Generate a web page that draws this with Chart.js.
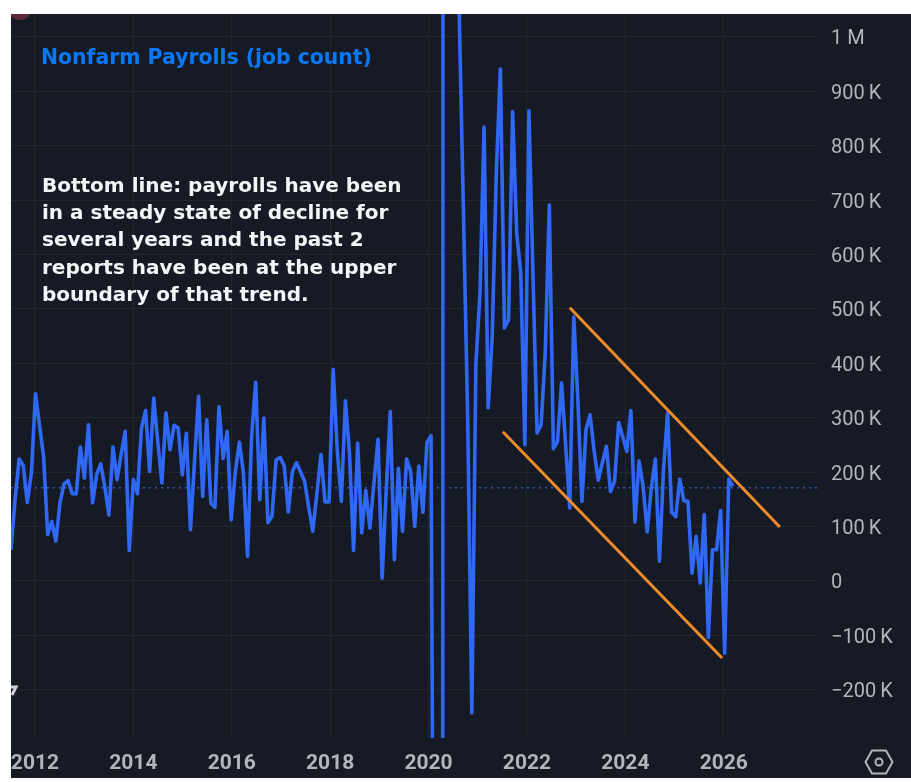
<!DOCTYPE html>
<html>
<head>
<meta charset="utf-8">
<title>Nonfarm Payrolls</title>
<script src="https://cdn.jsdelivr.net/npm/chart.js@4"></script>
<style>
	html, body { margin: 0; padding: 0; background: #fff; overflow: hidden; }
	#panel { position: absolute; left: 11px; top: 14px; width: 900px; height: 764px; background: #161a25; }
</style>
</head>
<body>
<div id="panel"><canvas id="myChart" width="900" height="764"></canvas></div>
<script>
'use strict';

// monthly job change in thousands, starting July 2011
const payrolls = [
	57, 150, 224, 212, 144, 198,
	344, 285, 228, 85, 109, 73, 143, 178, 184, 160, 160, 246,
	189, 287, 143, 195, 215, 173, 121, 246, 186, 232, 275, 56,
	186, 160, 281, 313, 201, 336, 255, 180, 309, 241, 286, 281,
	195, 271, 94, 220, 339, 155, 296, 143, 135, 320, 225, 275,
	112, 200, 255, 198, 45, 265, 365, 149, 299, 107, 119, 222,
	227, 211, 127, 201, 217, 200, 183, 135, 91, 160, 232, 145,
	145, 389, 240, 146, 331, 235, 56, 253, 88, 166, 97, 180,
	260, 5, 165, 311, 39, 207, 91, 224, 201, 100, 211, 126,
	254, 267, -1373, -20477, 2793, 4580, 1732, 1450, 1010, 658, 293, -243,
	399, 529, 834, 318, 449, 750, 941, 465, 480, 862, 639, 566,
	250, 864, 560, 272, 287, 419, 691, 243, 256, 364, 250, 134,
	485, 333, 146, 278, 305, 238, 185, 217, 247, 164, 183, 291,
	265, 238, 313, 108, 220, 174, 90, 170, 224, 36, 204, 308,
	126, 118, 187, 147, 146, 14, 82, -4, 122, -104, 57, 57,
	129, -133, 187, 174
];
const startYear = 2011.5;

const upperTrend = [[2022.92, 502], [2027.21, 99]];
const lowerTrend = [[2021.55, 274], [2026.03, -142]];
const lastValue = 171;

const yearTicks = [2012, 2014, 2016, 2018, 2020, 2022, 2024, 2026];
const yTicks = [1000, 900, 800, 700, 600, 500, 400, 300, 200, 100, 0, -100, -200];
const yTickLabels = ['1 M', '900\u2009K', '800\u2009K', '700\u2009K', '600\u2009K', '500\u2009K', '400\u2009K', '300\u2009K', '200\u2009K', '100\u2009K', '0', '\u2212100\u2009K', '\u2212200\u2009K'];

const titleText = 'Nonfarm Payrolls (job count)';
const noteLines = [
	'Bottom line: payrolls have been',
	'in a steady state of decline for',
	'several years and the past 2',
	'reports have been at the upper',
	'boundary of that trend.'
];

const gridColor = '#22262f';
const axisTextColor = '#b2b5be';

const toPoints = pairs => pairs.map(p => ({ x: p[0], y: p[1] }));

// annotations and the small corner bits of the screenshot
const overlay = {
	id: 'overlay',
	afterDraw(chart) {
		const c = chart.ctx;
		c.save();
		c.textBaseline = 'alphabetic';
		c.textAlign = 'left';

		c.font = 'bold 20.4px "DejaVu Sans"';
		c.fillStyle = '#0a78f5';
		c.fillText(titleText, 30, 50);

		c.font = 'bold 20px "DejaVu Sans"';
		c.fillStyle = '#f4f5f7';
		noteLines.forEach((line, i) => c.fillText(line, 31, 178 + i * 27.2));

		// settings hexagon
		c.strokeStyle = axisTextColor;
		c.lineWidth = 2;
		c.beginPath();
		c.moveTo(854.5, 748);
		c.lineTo(861, 736.5);
		c.lineTo(875, 736.5);
		c.lineTo(881.5, 748);
		c.lineTo(875, 759.5);
		c.lineTo(861, 759.5);
		c.closePath();
		c.stroke();
		c.beginPath();
		c.arc(868, 748, 3.5, 0, Math.PI * 2);
		c.stroke();

		// clipped marker at top left
		c.fillStyle = '#5c2a38';
		c.beginPath();
		c.arc(9, -6, 12, 0, Math.PI * 2);
		c.fill();

		// clipped logo at lower left
		c.strokeStyle = '#cfd0d4';
		c.lineWidth = 3;
		c.beginPath();
		c.moveTo(0, 673);
		c.lineTo(5, 673);
		c.lineTo(1, 681);
		c.stroke();
		c.restore();
	}
};

let ctx = document.getElementById('myChart');

let myChart = new Chart(ctx, {
	type: 'line',
	data: {
		datasets: [
			{
				data: toPoints(upperTrend),
				borderColor: '#ee8c2b',
				borderWidth: 3,
				order: 1
			},
			{
				data: toPoints(lowerTrend),
				borderColor: '#ee8c2b',
				borderWidth: 3,
				order: 1
			},
			{
				data: payrolls.map((v, i) => ({ x: startYear + i / 12, y: v })),
				borderColor: '#2f68f5',
				borderWidth: 3.6,
				borderJoinStyle: 'round',
				order: 2
			},
			{
				data: toPoints([[startYear, lastValue], [2027.97, lastValue]]),
				borderColor: 'rgba(63, 116, 255, 0.7)',
				borderWidth: 1.5,
				borderDash: [2, 4],
				order: 3
			}
		]
	},
	options: {
		responsive: false,
		animation: false,
		parsing: false,
		elements: {
			point: { radius: 0 },
			line: { tension: 0 }
		},
		layout: { padding: 0 },
		plugins: {
			legend: { display: false },
			tooltip: { enabled: false }
		},
		scales: {
			x: {
				type: 'linear',
				min: startYear,
				max: 2027.97,
				afterBuildTicks: axis => {
					// the screenshot's year lines run a touch wider than the monthly points
					axis.ticks = yearTicks.map(y => ({ value: 2012 + ((y - 2012) * 49.2 - 0.5) / 48.94 }));
				},
				afterFit: axis => { axis.height = 40; axis.paddingLeft = 0; axis.paddingRight = 0; },
				grid: { color: gridColor, drawTicks: false },
				border: { display: false },
				ticks: {
					color: axisTextColor,
					font: { family: 'Roboto', size: 21, weight: 'bold' },
					maxRotation: 0,
					autoSkip: false,
					padding: 13,
					callback: (value, index) => String(yearTicks[index])
				}
			},
			y: {
				position: 'right',
				min: -289,
				max: 1042,
				afterBuildTicks: axis => {
					axis.ticks = yTicks.map(v => ({ value: v }));
				},
				afterFit: axis => { axis.width = 94; axis.paddingTop = 0; axis.paddingBottom = 0; },
				grid: { color: gridColor, drawTicks: false },
				border: { display: false },
				ticks: {
					color: axisTextColor,
					// blank first line plus a tight line height nudges the text down onto its grid line
					font: { family: 'Roboto', size: 20, lineHeight: '5px' },
					padding: 14,
					callback: (value, index) => ['', yTickLabels[index]]
				}
			}
		}
	},
	plugins: [overlay]
});
</script>
</body>
</html>
